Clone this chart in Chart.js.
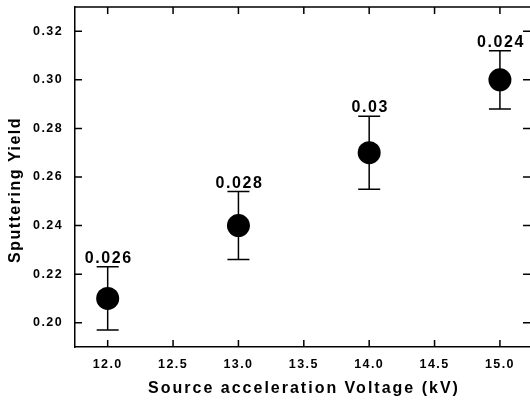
<!DOCTYPE html>
<html>
<head>
<meta charset="utf-8">
<script src="https://cdn.jsdelivr.net/npm/chart.js@4"></script>
<style>
  html, body { margin: 0; padding: 0; background: #fff; overflow: hidden; }
  #wrap { width: 530px; height: 401px; position: relative; }
</style>
</head>
<body>
<div id="wrap"><canvas id="grafico"></canvas></div>
<script>
const voltajes = [12.0, 13.0, 14.0, 15.0];
const rendimiento = [0.21, 0.24, 0.27, 0.30];
const errores = [0.026, 0.028, 0.03, 0.024];
const etiquetasError = ["0.026", "0.028", "0.03", "0.024"];
const ticksX = [12.0, 12.5, 13.0, 13.5, 14.0, 14.5, 15.0];
const ticksY = [0.20, 0.22, 0.24, 0.26, 0.28, 0.30, 0.32];
const tituloX = "Source acceleration Voltage (kV)";
const tituloY = "Sputtering Yield";

const fuente = "'Liberation Sans', Arial, sans-serif";

// barras de error, marcas hacia dentro, borde superior y textos
const extras = {
  id: "extras",
  beforeDraw(chart) {
    chart.ctx.letterSpacing = "1.4px";
  },
  beforeDatasetsDraw(chart) {
    const ctx = chart.ctx;
    const x = chart.scales.x, y = chart.scales.y;
    ctx.save();
    ctx.strokeStyle = "#000";
    ctx.lineWidth = 1.5;
    voltajes.forEach((v, i) => {
      const px = x.getPixelForValue(v);
      const arriba = y.getPixelForValue(rendimiento[i] + errores[i] / 2);
      const abajo = y.getPixelForValue(rendimiento[i] - errores[i] / 2);
      ctx.beginPath();
      ctx.moveTo(px, arriba); ctx.lineTo(px, abajo);
      ctx.moveTo(px - 11, arriba); ctx.lineTo(px + 11, arriba);
      ctx.moveTo(px - 11, abajo); ctx.lineTo(px + 11, abajo);
      ctx.stroke();
    });
    ctx.restore();
  },
  afterDraw(chart) {
    const ctx = chart.ctx;
    const x = chart.scales.x, y = chart.scales.y;
    const area = chart.chartArea;
    ctx.save();
    ctx.strokeStyle = "#000";
    ctx.lineWidth = 1.5;
    ctx.beginPath();
    ctx.moveTo(area.left, area.top); ctx.lineTo(area.right, area.top);
    ticksX.forEach(v => {
      const px = x.getPixelForValue(v);
      ctx.moveTo(px, area.bottom); ctx.lineTo(px, area.bottom - 7);
      ctx.moveTo(px, area.top); ctx.lineTo(px, area.top + 7);
    });
    ticksY.forEach(v => {
      const py = y.getPixelForValue(v);
      ctx.moveTo(area.left, py); ctx.lineTo(area.left + 7, py);
      ctx.moveTo(area.right, py); ctx.lineTo(area.right - 7, py);
    });
    ctx.stroke();

    ctx.fillStyle = "#000";
    ctx.font = "bold 16px " + fuente;
    ctx.letterSpacing = "1.6px";
    ctx.textAlign = "center";
    ctx.textBaseline = "alphabetic";
    voltajes.forEach((v, i) => {
      const px = x.getPixelForValue(v);
      const arriba = y.getPixelForValue(rendimiento[i] + errores[i] / 2);
      ctx.fillText(etiquetasError[i], px + 1, arriba - 4);
    });

    ctx.letterSpacing = "2px";
    ctx.textBaseline = "middle";
    ctx.fillText(tituloX, 304, 389);

    ctx.letterSpacing = "1.5px";
    ctx.translate(16, 190);
    ctx.rotate(-Math.PI / 2);
    ctx.fillText(tituloY, 0, 0);
    ctx.restore();
  }
};

new Chart(document.getElementById("grafico"), {
  type: "scatter",
  data: {
    datasets: [{
      data: voltajes.map((v, i) => ({ x: v, y: rendimiento[i] })),
      backgroundColor: "#000",
      borderWidth: 0,
      pointRadius: 11.5,
      pointHoverRadius: 11.5
    }]
  },
  options: {
    responsive: true,
    maintainAspectRatio: false,
    animation: false,
    layout: { autoPadding: false, padding: { top: 7, left: 0, right: 0, bottom: 0 } },
    plugins: { legend: { display: false }, tooltip: { enabled: false } },
    scales: {
      x: {
        type: "linear",
        min: 11.75,
        max: 15.23,
        afterBuildTicks: s => { s.ticks = ticksX.map(v => ({ value: v })); },
        afterFit: s => { s.height = 54; s.paddingLeft = 0; s.paddingRight = 0; },
        grid: { display: false, drawTicks: false },
        border: { display: true, color: "#000", width: 1.5 },
        ticks: {
          color: "#000",
          padding: 10,
          maxRotation: 0,
          autoSkip: false,
          font: { family: fuente, size: 12.5, weight: "bold" },
          callback: v => v.toFixed(1)
        }
      },
      y: {
        type: "linear",
        min: 0.19,
        max: 0.33,
        afterBuildTicks: s => { s.ticks = ticksY.map(v => ({ value: v })); },
        afterFit: s => { s.width = 75; s.paddingTop = 0; s.paddingBottom = 0; },
        grid: { display: false, drawTicks: false },
        border: { display: true, color: "#000", width: 1.5 },
        ticks: {
          color: "#000",
          padding: 12,
          font: { family: fuente, size: 12.5, weight: "bold" },
          callback: v => v.toFixed(2)
        }
      }
    }
  },
  plugins: [extras]
});
</script>
</body>
</html>
